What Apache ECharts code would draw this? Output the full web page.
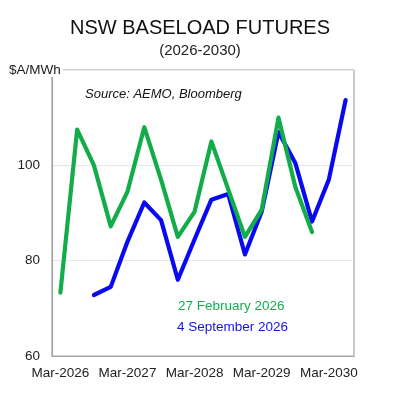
<!DOCTYPE html>
<html>
<head>
<meta charset="utf-8">
<script src="https://cdn.jsdelivr.net/npm/echarts@6/dist/echarts.min.js"></script>
<style>
    html, body {margin: 0; padding: 0; background: #fff;}
    #chart {width: 400px; height: 400px;}
</style>
</head>
<body>
<div id="chart"></div>
<script>
// quarterly contracts, Mar-2026 .. Jun-2030
var quarters = ['Mar-2026', 'Jun-2026', 'Sep-2026', 'Dec-2026',
    'Mar-2027', 'Jun-2027', 'Sep-2027', 'Dec-2027',
    'Mar-2028', 'Jun-2028', 'Sep-2028', 'Dec-2028',
    'Mar-2029', 'Jun-2029', 'Sep-2029', 'Dec-2029',
    'Mar-2030', 'Jun-2030'];

// 27 February 2026 curve (Mar-2026 .. Dec-2029)
var febValues = [73.3, 107.5, 100, 87.2, 94.5, 108, 97, 85,
    90.3, 105, 95, 85, 90.7, 110, 95.5, 86, null, null];

// 4 September 2026 curve (Sep-2026 .. Jun-2030)
var sepValues = [null, null, 72.8, 74.5, 84, 92.2, 88.5, 76,
    84.5, 92.8, 94, 81.3, 90.3, 107, 100.5, 88.2, 97, 113.7];

var yTicks = [60, 80, 100];
var labelFont = 'Liberation Sans, Arial, sans-serif';

var myChart = echarts.init(document.getElementById('chart'));
var option = {
    animation: false,
    title: [
        {
            text: 'NSW BASELOAD FUTURES',
            left: 'center',
            top: 13,
            textStyle: {fontFamily: labelFont, fontSize: 20, fontWeight: 'normal', color: '#111'}
        },
        {
            text: '(2026-2030)',
            left: 'center',
            top: 38,
            textStyle: {fontFamily: labelFont, fontSize: 15, fontWeight: 'normal', color: '#222'}
        }
    ],
    grid: {
        left: 52,
        right: 46,
        top: 70,
        bottom: 44,
        show: true,
        borderColor: '#a6a6a6',
        borderWidth: 1.2
    },
    xAxis: {
        type: 'category',
        data: quarters,
        boundaryGap: true,
        axisLine: {lineStyle: {color: '#a6a6a6', width: 1.2}},
        axisTick: {show: false},
        axisLabel: {
            interval: 3,
            margin: 10,
            color: '#222',
            fontFamily: labelFont,
            fontSize: 13.5
        },
        splitLine: {show: false}
    },
    yAxis: {
        type: 'value',
        min: 60,
        max: 120,
        interval: 20,
        axisLine: {show: true, lineStyle: {color: '#a6a6a6', width: 1.2}},
        axisTick: {show: false},
        axisLabel: {
            margin: 12,
            color: '#222',
            fontFamily: labelFont,
            fontSize: 13.5,
            formatter: function (v) {
                return yTicks.indexOf(v) >= 0 ? String(v) : '';
            }
        },
        splitLine: {lineStyle: {color: '#e6e6e6', width: 1.2}}
    },
    graphic: [
        {
            // unit label sits over the top-left corner of the frame
            type: 'text',
            left: 9,
            top: 63,
            z: 100,
            style: {
                text: '$A/MWh',
                fontFamily: labelFont,
                fontSize: 13.5,
                fill: '#222',
                backgroundColor: '#fff',
                padding: [0, 2, 0, 0]
            }
        },
        {
            type: 'text',
            left: 85,
            top: 88,
            style: {
                text: 'Source: AEMO, Bloomberg',
                fontFamily: labelFont,
                fontSize: 13,
                fontStyle: 'italic',
                fill: '#111'
            }
        },
        {
            type: 'text',
            left: 178,
            top: 299,
            style: {
                text: '27 February 2026',
                fontFamily: labelFont,
                fontSize: 13.5,
                fill: '#1aad4e'
            }
        },
        {
            type: 'text',
            left: 177,
            top: 320,
            style: {
                text: '4 September 2026',
                fontFamily: labelFont,
                fontSize: 13.5,
                fill: '#1212e6'
            }
        }
    ],
    series: [
        {
            name: '4 September 2026',
            type: 'line',
            data: sepValues,
            symbol: 'none',
            lineStyle: {color: '#0a0af0', width: 4.2, cap: 'round', join: 'round'},
            z: 2
        },
        {
            name: '27 February 2026',
            type: 'line',
            data: febValues,
            symbol: 'none',
            lineStyle: {color: '#12ad4a', width: 4.2, cap: 'round', join: 'round'},
            z: 3
        }
    ]
};
myChart.setOption(option);
</script>
</body>
</html>
